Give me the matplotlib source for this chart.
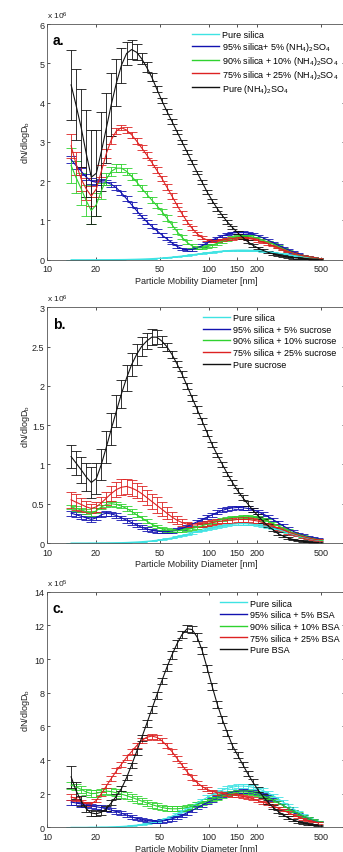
import matplotlib
matplotlib.use('Agg')
import matplotlib.pyplot as plt
from matplotlib.lines import Line2D
from matplotlib.ticker import FixedLocator, NullLocator, FormatStrFormatter
import numpy as np

plt.rcParams['font.family'] = ['Liberation Sans', 'DejaVu Sans']
plt.rcParams['mathtext.fontset'] = 'custom'
plt.rcParams['mathtext.rm'] = 'Liberation Sans'
plt.rcParams['mathtext.it'] = 'Liberation Sans'
plt.rcParams['mathtext.default'] = 'regular'

# SMPS channel midpoints [nm]
diam = [14.1, 15.1, 16.3, 17.5, 18.8, 20.2, 21.7, 23.3, 25.0, 26.9,
        28.9, 31.1, 33.4, 35.9, 38.5, 41.4, 44.5, 47.8, 51.4, 55.2,
        59.4, 63.8, 68.5, 73.7, 79.1, 85.1, 91.4, 98.2, 105.5, 113.4,
        121.9, 131.0, 140.7, 151.2, 162.5, 174.7, 187.7, 201.7, 216.7, 232.9,
        250.3, 269.0, 289.0, 310.6, 333.8, 358.7, 385.4, 414.2, 445.1, 478.3]

# pure silica, x1e6
silica = [0.0, 0.0, 0.0, 0.0, 0.001, 0.001, 0.002, 0.002, 0.003, 0.004,
          0.005, 0.007, 0.01, 0.013, 0.017, 0.022, 0.028, 0.035, 0.044, 0.054,
          0.066, 0.08, 0.095, 0.11, 0.127, 0.144, 0.161, 0.178, 0.194, 0.208,
          0.221, 0.231, 0.239, 0.244, 0.245, 0.243, 0.238, 0.23, 0.219, 0.205,
          0.189, 0.171, 0.151, 0.131, 0.111, 0.092, 0.074, 0.058, 0.045, 0.034]
silica_err = [0.0, 0.0, 0.0, 0.0, 0.0, 0.0, 0.0, 0.0, 0.0, 0.0,
              0.001, 0.001, 0.001, 0.001, 0.002, 0.002, 0.002, 0.003, 0.003, 0.004,
              0.004, 0.005, 0.006, 0.007, 0.008, 0.009, 0.01, 0.011, 0.011, 0.012,
              0.012, 0.013, 0.013, 0.013, 0.013, 0.013, 0.013, 0.012, 0.012, 0.011,
              0.011, 0.01, 0.009, 0.008, 0.007, 0.006, 0.005, 0.004, 0.003, 0.003]

# (a) ammonium sulfate, x1e6
as05 = [2.55, 2.4, 2.25, 2.1, 2.0, 1.97, 1.98, 1.97, 1.92, 1.83,
        1.7, 1.55, 1.4, 1.25, 1.1, 0.97, 0.85, 0.74, 0.63, 0.53,
        0.43, 0.34, 0.28, 0.25, 0.26, 0.3, 0.36, 0.43, 0.5, 0.56,
        0.61, 0.65, 0.68, 0.69, 0.69, 0.68, 0.65, 0.61, 0.56, 0.5,
        0.44, 0.37, 0.31, 0.25, 0.2, 0.15, 0.11, 0.08, 0.06, 0.045]
as05_err = [0.1, 0.1, 0.09, 0.08, 0.08, 0.07, 0.07, 0.06, 0.06, 0.06,
            0.06, 0.06, 0.06, 0.06, 0.05, 0.05, 0.05, 0.05, 0.04, 0.04,
            0.03, 0.03, 0.03, 0.03, 0.03, 0.03, 0.03, 0.03, 0.03, 0.03,
            0.03, 0.03, 0.03, 0.03, 0.03, 0.03, 0.03, 0.03, 0.03, 0.03,
            0.02, 0.02, 0.02, 0.02, 0.02, 0.02, 0.01, 0.01, 0.01, 0.01]
as10 = [2.4, 2.1, 1.8, 1.5, 1.25, 1.4, 1.75, 2.05, 2.25, 2.33,
        2.33, 2.25, 2.12, 1.98, 1.82, 1.67, 1.52, 1.38, 1.23, 1.06,
        0.89, 0.72, 0.57, 0.44, 0.35, 0.3, 0.3, 0.33, 0.37, 0.42,
        0.47, 0.52, 0.56, 0.59, 0.6, 0.6, 0.58, 0.55, 0.5, 0.45,
        0.4, 0.34, 0.28, 0.22, 0.17, 0.13, 0.1, 0.075, 0.055, 0.04]
as10_err = [0.45, 0.4, 0.4, 0.4, 0.35, 0.3, 0.2, 0.15, 0.12, 0.1,
            0.1, 0.09, 0.09, 0.08, 0.08, 0.08, 0.08, 0.07, 0.07, 0.07,
            0.06, 0.06, 0.05, 0.05, 0.04, 0.04, 0.04, 0.04, 0.04, 0.04,
            0.04, 0.04, 0.04, 0.04, 0.04, 0.04, 0.04, 0.04, 0.03, 0.03,
            0.03, 0.03, 0.03, 0.02, 0.02, 0.02, 0.02, 0.01, 0.01, 0.01]
as25 = [2.9, 2.45, 2.05, 1.8, 1.62, 1.8, 2.25, 2.7, 3.05, 3.28,
        3.36, 3.3, 3.18, 3.02, 2.85, 2.67, 2.48, 2.28, 2.07, 1.85,
        1.62, 1.39, 1.17, 0.97, 0.8, 0.66, 0.56, 0.5, 0.48, 0.48,
        0.5, 0.52, 0.54, 0.55, 0.55, 0.54, 0.52, 0.49, 0.45, 0.41,
        0.36, 0.31, 0.26, 0.21, 0.17, 0.13, 0.1, 0.08, 0.06, 0.04]
as25_err = [0.3, 0.3, 0.3, 0.28, 0.25, 0.2, 0.15, 0.12, 0.1, 0.08,
            0.07, 0.07, 0.07, 0.07, 0.07, 0.07, 0.07, 0.07, 0.07, 0.07,
            0.07, 0.06, 0.06, 0.05, 0.05, 0.04, 0.04, 0.03, 0.03, 0.03,
            0.03, 0.03, 0.03, 0.03, 0.03, 0.03, 0.03, 0.03, 0.03, 0.03,
            0.02, 0.02, 0.02, 0.02, 0.02, 0.01, 0.01, 0.01, 0.01, 0.01]
as100 = [4.45, 3.95, 3.35, 2.7, 2.1, 2.2, 2.75, 3.35, 3.95, 4.5,
         4.95, 5.25, 5.35, 5.28, 5.12, 4.9, 4.65, 4.35, 4.05, 3.78,
         3.52, 3.26, 3.0, 2.74, 2.48, 2.22, 1.97, 1.72, 1.5, 1.3,
         1.12, 0.96, 0.82, 0.69, 0.57, 0.46, 0.37, 0.3, 0.24, 0.19,
         0.15, 0.12, 0.09, 0.07, 0.05, 0.04, 0.03, 0.02, 0.015, 0.01]
as100_err = [0.9, 0.9, 1.0, 1.1, 1.2, 1.1, 1.0, 0.9, 0.8, 0.6,
             0.45, 0.3, 0.25, 0.2, 0.15, 0.12, 0.1, 0.08, 0.07, 0.06,
             0.06, 0.05, 0.05, 0.05, 0.05, 0.05, 0.05, 0.05, 0.05, 0.05,
             0.04, 0.04, 0.04, 0.04, 0.04, 0.04, 0.04, 0.03, 0.03, 0.03,
             0.03, 0.03, 0.02, 0.02, 0.02, 0.02, 0.01, 0.01, 0.01, 0.01]

# (b) sucrose, x1e6
su05 = [0.38, 0.36, 0.34, 0.32, 0.3, 0.32, 0.36, 0.38, 0.37, 0.35,
        0.32, 0.29, 0.26, 0.23, 0.2, 0.18, 0.16, 0.15, 0.145, 0.145,
        0.15, 0.165, 0.185, 0.21, 0.24, 0.27, 0.3, 0.33, 0.36, 0.39,
        0.415, 0.435, 0.447, 0.452, 0.45, 0.44, 0.425, 0.4, 0.37, 0.34,
        0.3, 0.26, 0.22, 0.185, 0.15, 0.12, 0.1, 0.08, 0.065, 0.055]
su05_err = [0.03, 0.03, 0.03, 0.03, 0.03, 0.03, 0.03, 0.03, 0.03, 0.03,
            0.03, 0.03, 0.03, 0.03, 0.025, 0.025, 0.02, 0.02, 0.02, 0.02,
            0.02, 0.02, 0.02, 0.02, 0.02, 0.02, 0.02, 0.025, 0.025, 0.025,
            0.025, 0.025, 0.025, 0.025, 0.025, 0.025, 0.025, 0.025, 0.025, 0.02,
            0.02, 0.02, 0.02, 0.015, 0.015, 0.01, 0.01, 0.01, 0.01, 0.01]
su10 = [0.46, 0.44, 0.42, 0.4, 0.38, 0.41, 0.46, 0.49, 0.5, 0.49,
        0.47, 0.44, 0.4, 0.36, 0.32, 0.28, 0.24, 0.21, 0.18, 0.165,
        0.155, 0.155, 0.16, 0.17, 0.185, 0.2, 0.22, 0.24, 0.26, 0.28,
        0.3, 0.315, 0.325, 0.33, 0.335, 0.335, 0.33, 0.32, 0.3, 0.28,
        0.25, 0.22, 0.19, 0.16, 0.13, 0.11, 0.09, 0.07, 0.055, 0.045]
su10_err = [0.03, 0.03, 0.03, 0.03, 0.03, 0.03, 0.03, 0.03, 0.03, 0.03,
            0.03, 0.03, 0.03, 0.03, 0.025, 0.025, 0.02, 0.02, 0.02, 0.02,
            0.02, 0.02, 0.02, 0.02, 0.02, 0.02, 0.02, 0.02, 0.02, 0.02,
            0.02, 0.02, 0.02, 0.02, 0.02, 0.02, 0.02, 0.02, 0.02, 0.02,
            0.02, 0.015, 0.015, 0.015, 0.01, 0.01, 0.01, 0.01, 0.01, 0.01]
su25 = [0.55, 0.52, 0.49, 0.46, 0.44, 0.46, 0.51, 0.57, 0.63, 0.68,
        0.71, 0.72, 0.7, 0.67, 0.63, 0.58, 0.53, 0.48, 0.43, 0.38,
        0.33, 0.29, 0.26, 0.24, 0.23, 0.23, 0.24, 0.25, 0.26, 0.27,
        0.28, 0.29, 0.29, 0.3, 0.3, 0.3, 0.29, 0.28, 0.26, 0.24,
        0.22, 0.19, 0.17, 0.14, 0.12, 0.1, 0.08, 0.065, 0.05, 0.04]
su25_err = [0.1, 0.1, 0.08, 0.07, 0.06, 0.06, 0.07, 0.08, 0.09, 0.1,
            0.1, 0.1, 0.1, 0.1, 0.1, 0.1, 0.1, 0.1, 0.09, 0.08,
            0.06, 0.05, 0.04, 0.03, 0.03, 0.03, 0.03, 0.03, 0.03, 0.03,
            0.03, 0.03, 0.03, 0.03, 0.03, 0.03, 0.03, 0.03, 0.03, 0.02,
            0.02, 0.02, 0.02, 0.02, 0.015, 0.015, 0.01, 0.01, 0.01, 0.01]
su100 = [1.1, 1.02, 0.93, 0.84, 0.77, 0.82, 1.0, 1.22, 1.45, 1.68,
         1.9, 2.1, 2.27, 2.4, 2.5, 2.57, 2.62, 2.62, 2.57, 2.5,
         2.4, 2.28, 2.15, 2.0, 1.85, 1.7, 1.55, 1.4, 1.25, 1.12,
         1.0, 0.88, 0.77, 0.67, 0.58, 0.5, 0.42, 0.35, 0.28, 0.22,
         0.17, 0.12, 0.09, 0.065, 0.045, 0.032, 0.022, 0.015, 0.01, 0.007]
su100_err = [0.15, 0.15, 0.17, 0.18, 0.2, 0.2, 0.2, 0.2, 0.2, 0.2,
             0.18, 0.16, 0.15, 0.13, 0.12, 0.1, 0.1, 0.09, 0.07, 0.05,
             0.04, 0.04, 0.04, 0.04, 0.04, 0.04, 0.04, 0.04, 0.03, 0.03,
             0.03, 0.03, 0.03, 0.03, 0.03, 0.03, 0.03, 0.02, 0.02, 0.02,
             0.02, 0.02, 0.015, 0.015, 0.01, 0.01, 0.01, 0.005, 0.005, 0.005]

# (c) BSA, x1e5
bsa05 = [1.5, 1.45, 1.38, 1.32, 1.27, 1.22, 1.17, 1.1, 1.02, 0.93,
         0.83, 0.73, 0.62, 0.53, 0.45, 0.39, 0.36, 0.35, 0.37, 0.42,
         0.5, 0.6, 0.72, 0.86, 1.0, 1.16, 1.32, 1.48, 1.63, 1.77,
         1.9, 2.0, 2.08, 2.13, 2.15, 2.14, 2.1, 2.02, 1.92, 1.79,
         1.64, 1.48, 1.31, 1.14, 0.97, 0.81, 0.67, 0.54, 0.43, 0.34]
bsa05_err = [0.15, 0.15, 0.15, 0.14, 0.14, 0.13, 0.13, 0.13, 0.12, 0.12,
             0.12, 0.12, 0.11, 0.11, 0.1, 0.1, 0.1, 0.1, 0.1, 0.1,
             0.1, 0.1, 0.1, 0.1, 0.1, 0.1, 0.1, 0.1, 0.1, 0.1,
             0.1, 0.1, 0.1, 0.1, 0.1, 0.1, 0.1, 0.1, 0.1, 0.1,
             0.09, 0.09, 0.08, 0.08, 0.07, 0.06, 0.06, 0.05, 0.05, 0.04]
bsa10 = [2.5, 2.4, 2.25, 2.1, 2.0, 2.02, 2.1, 2.15, 2.12, 2.05,
         1.97, 1.88, 1.78, 1.67, 1.56, 1.45, 1.35, 1.26, 1.18, 1.12,
         1.1, 1.1, 1.13, 1.18, 1.25, 1.34, 1.44, 1.55, 1.66, 1.77,
         1.87, 1.96, 2.03, 2.08, 2.1, 2.09, 2.05, 1.98, 1.88, 1.76,
         1.62, 1.46, 1.3, 1.13, 0.97, 0.82, 0.68, 0.56, 0.45, 0.36]
bsa10_err = [0.2, 0.2, 0.2, 0.2, 0.2, 0.2, 0.2, 0.2, 0.2, 0.2,
             0.2, 0.2, 0.2, 0.2, 0.2, 0.2, 0.18, 0.18, 0.17, 0.17,
             0.16, 0.16, 0.15, 0.15, 0.14, 0.14, 0.13, 0.13, 0.12, 0.12,
             0.12, 0.12, 0.11, 0.11, 0.11, 0.11, 0.11, 0.1, 0.1, 0.1,
             0.09, 0.09, 0.08, 0.08, 0.07, 0.07, 0.06, 0.05, 0.05, 0.04]
bsa25 = [1.8, 1.7, 1.55, 1.42, 1.38, 1.6, 2.0, 2.45, 2.9, 3.35,
         3.75, 4.15, 4.5, 4.85, 5.15, 5.35, 5.42, 5.35, 5.15, 4.85,
         4.5, 4.1, 3.7, 3.3, 2.95, 2.65, 2.42, 2.25, 2.13, 2.05,
         2.0, 1.96, 1.92, 1.88, 1.83, 1.77, 1.7, 1.6, 1.5, 1.4,
         1.28, 1.15, 1.02, 0.88, 0.75, 0.62, 0.51, 0.41, 0.33, 0.26]
bsa25_err = [0.15, 0.12, 0.1, 0.1, 0.1, 0.1, 0.12, 0.13, 0.14, 0.15,
             0.15, 0.15, 0.15, 0.15, 0.15, 0.15, 0.15, 0.15, 0.15, 0.15,
             0.15, 0.15, 0.14, 0.14, 0.13, 0.13, 0.12, 0.12, 0.11, 0.11,
             0.1, 0.1, 0.1, 0.1, 0.1, 0.1, 0.1, 0.1, 0.09, 0.09,
             0.08, 0.08, 0.07, 0.07, 0.06, 0.06, 0.05, 0.05, 0.04, 0.04]
bsa100 = [3.0, 2.2, 1.55, 1.1, 0.85, 0.8, 0.9, 1.1, 1.45, 1.85,
          2.3, 2.95, 3.7, 4.5, 5.3, 6.15, 7.0, 7.85, 8.7, 9.5,
          10.25, 10.9, 11.45, 11.8, 11.75, 11.3, 10.5, 9.45, 8.35, 7.3,
          6.4, 5.6, 4.85, 4.3, 3.75, 3.2, 2.7, 2.25, 1.85, 1.5,
          1.2, 0.95, 0.74, 0.57, 0.44, 0.34, 0.26, 0.2, 0.15, 0.11]
bsa100_err = [0.65, 0.5, 0.3, 0.2, 0.15, 0.15, 0.15, 0.15, 0.15, 0.15,
              0.15, 0.15, 0.15, 0.18, 0.18, 0.2, 0.2, 0.2, 0.2, 0.22,
              0.22, 0.22, 0.22, 0.22, 0.22, 0.22, 0.2, 0.2, 0.2, 0.2,
              0.2, 0.18, 0.18, 0.18, 0.16, 0.16, 0.15, 0.15, 0.13, 0.12,
              0.1, 0.1, 0.08, 0.08, 0.06, 0.06, 0.05, 0.05, 0.04, 0.04]

colors = ['#3fe3e3', '#1212b0', '#2fd22f', '#dd2222', '#111111']

labels_a = ['Pure silica', '95% silica+ 5% (NH$_4$)$_2$SO$_4$',
            '90% silica + 10% (NH$_4$)$_2$SO$_4$',
            '75% silica + 25% (NH$_4$)$_2$SO$_4$', 'Pure (NH$_4$)$_2$SO$_4$']
labels_b = ['Pure silica', '95% silica + 5% sucrose', '90% silica + 10% sucrose',
            '75% silica + 25% sucrose', 'Pure sucrose']
labels_c = ['Pure silica', '95% silica + 5% BSA', '90% silica + 10% BSA',
            '75% silica + 25% BSA', 'Pure BSA']

FS = 6.5
W, H = 343, 853
fig = plt.figure(figsize=(W / 100, H / 100), dpi=100)


def panel(top, bottom, series, labels, ymax, yticks, expo, letter, leg_x, leg_y, lsp):
    ax = fig.add_axes([47 / W, 1 - bottom / H, 298 / W, (bottom - top) / H])
    for (y, e), c in zip(series, colors):
        ax.errorbar(diam, y, yerr=e, color=c, lw=0.8, elinewidth=0.6,
                    capsize=3.8, capthick=0.6)
    ax.set_xscale('log')
    ax.set_xlim(10, 700)
    ax.set_ylim(0, ymax)
    ax.xaxis.set_major_locator(FixedLocator([10, 20, 50, 100, 150, 200, 500]))
    ax.xaxis.set_major_formatter(FormatStrFormatter('%g'))
    ax.xaxis.set_minor_locator(NullLocator())
    ax.set_yticks(yticks)
    ax.yaxis.set_major_formatter(FormatStrFormatter('%g'))
    ax.tick_params(direction='in', length=2.5, width=0.6, labelsize=FS,
                   top=True, right=True, colors='#333333',
                   labelcolor='#222222')
    ax.tick_params(axis='x', pad=3.3)
    ax.tick_params(axis='y', pad=1.8)
    for s in ax.spines.values():
        s.set_linewidth(0.6)
        s.set_color('#555555')
    ax.set_xlabel('Particle Mobility Diameter [nm]', fontsize=FS, color='#222222')
    ax.xaxis.set_label_coords(0.5, -0.07)
    ax.set_ylabel('dN/dlogD$_b$', fontsize=FS, color='#222222')
    ax.yaxis.set_label_coords(-0.05, 0.5)
    ax.text(0.0, 1.012, 'x 10$^{%d}$' % expo, transform=ax.transAxes,
            fontsize=FS - 0.5, ha='left', va='bottom', color='#222222')
    ax.text(0.02, 0.93, letter, transform=ax.transAxes, fontsize=10,
            fontweight='bold', ha='left', va='center')
    handles = [Line2D([], [], color=c, lw=1.0) for c in colors]
    ax.legend(handles, labels, loc='upper left', bbox_to_anchor=(leg_x, leg_y),
              frameon=False, fontsize=FS, borderpad=0, borderaxespad=0,
              handlelength=3.0, handletextpad=0.35, labelspacing=lsp)
    return ax


panel(25, 260.7,
      [(silica, silica_err), (as05, as05_err), (as10, as10_err),
       (as25, as25_err), (as100, as100_err)],
      labels_a, 6, [0, 1, 2, 3, 4, 5, 6], 6, 'a.', 0.487, 0.975, 0.1)

panel(308.3, 544,
      [(silica, silica_err), (su05, su05_err), (su10, su10_err),
       (su25, su25_err), (su100, su100_err)],
      labels_b, 3, [0, 0.5, 1, 1.5, 2, 2.5, 3], 6, 'b.', 0.523, 0.976, 0.3)

silica_c = [v * 10 for v in silica]
silica_c_err = [v * 10 for v in silica_err]
panel(592.7, 828.3,
      [(silica_c, silica_c_err), (bsa05, bsa05_err), (bsa10, bsa10_err),
       (bsa25, bsa25_err), (bsa100, bsa100_err)],
      labels_c, 14, [0, 2, 4, 6, 8, 10, 12, 14], 5, 'c.', 0.58, 0.971, 0.3)

fig.savefig('out.png', dpi=100)
